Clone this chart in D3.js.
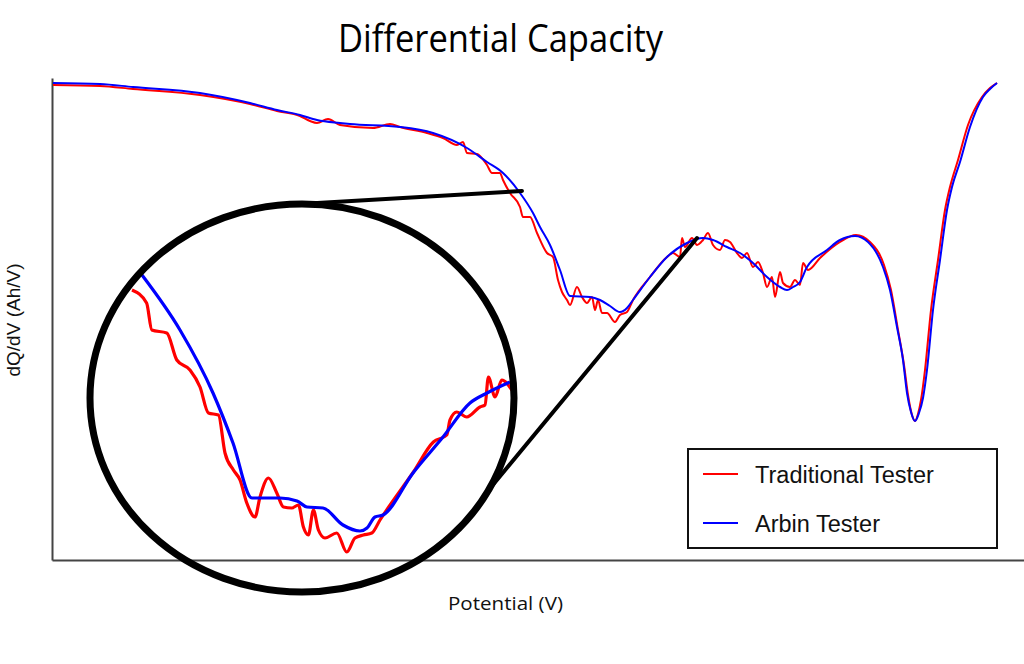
<!DOCTYPE html>
<html>
<head>
<meta charset="utf-8">
<script src="https://cdn.jsdelivr.net/npm/d3@7"></script>
<style>
  html, body { margin: 0; padding: 0; background: #fff; }
  svg { display: block; }
</style>
</head>
<body>
<svg id="chart" width="1024" height="664"></svg>
<script>
// ---------- DATA (potential, dQ/dV in arbitrary units) ----------
const seriesNames = ["Traditional Tester", "Arbin Tester"];
const seriesColors = ["#ff0000", "#0000ff"];

const traditionalV = [0.1,4.8,8.1,14.8,19.8,22.5,24.8,25.8,26.5,27.6,28.8,32.1,33.8,34.8,37.5,39.1,40.5,41.1,41.5,42.5,43.5,44.0,44.8,45.1,45.8,46.8,47.1,47.8,48.5,49.5,50.1,50.6,51.0,51.5,51.8,52.5,53.0,53.5,54.0,54.3,54.6,55.0,55.5,56.3,56.8,57.5,58.1,59.8,61.5,62.1,62.8,63.0,63.3,64.0,64.5,65.1,65.6,66.1,66.8,67.3,67.8,68.5,69.0,69.5,70.1,70.6,71.1,71.5,72.0,72.3,72.8,73.1,73.8,74.3,74.8,75.1,75.6,76.8,78.8,80.4,81.8,83.2,83.9,84.6,85.2,85.6,86.0,86.3,86.6,86.9,87.3,87.9,88.6,89.3,89.8,90.6,91.6,93.0,93.8,94.5];
const traditionalDQ = [95.0,94.8,94.2,93.0,91.2,89.8,88.8,87.8,87.4,88.2,87.0,86.4,87.2,86.6,85.4,84.4,83.0,83.6,81.4,81.2,79.0,77.4,77.4,76.0,73.4,70.6,68.6,68.6,65.4,61.4,60.6,56.0,53.6,52.0,51.0,54.6,52.6,51.4,52.6,50.0,52.0,49.4,49.4,47.6,49.0,49.6,52.0,56.6,60.6,61.4,60.6,64.4,62.6,64.4,63.0,64.0,65.4,63.0,62.0,64.0,63.6,61.4,60.4,61.4,58.6,59.6,57.4,54.6,56.6,52.6,57.6,55.4,54.6,56.0,55.0,59.4,58.0,60.4,63.6,65.0,63.6,59.0,54.0,46.0,39.0,33.0,29.0,27.8,29.2,32.0,38.0,50.0,60.0,70.0,74.6,80.0,87.0,92.6,94.4,95.4];

const arbinV = [0.1,4.8,8.1,14.8,19.8,22.5,24.8,26.5,28.8,29.8,34.8,38.1,41.5,43.5,45.1,46.8,48.1,48.8,49.8,50.8,51.8,53.8,54.8,55.8,56.8,57.5,58.1,59.8,61.5,63.5,65.1,66.1,67.5,68.8,70.1,71.5,72.8,73.5,74.1,74.8,75.5,77.5,78.8,80.3,81.6,83.1,83.8,84.5,85.1,85.5,85.9,86.3,86.7,87.1,87.5,88.1,88.8,89.5,90.0,90.8,91.8,93.1,93.8,94.5];
const arbinDQ = [95.4,95.2,94.6,93.4,91.4,90.0,89.0,88.0,87.4,87.2,86.6,85.4,82.4,79.6,77.4,73.4,69.4,66.6,63.0,58.0,52.8,52.6,52.0,50.8,49.6,50.4,52.0,56.6,60.6,63.4,64.4,64.0,62.6,61.4,59.4,56.6,54.6,54.0,54.6,55.6,58.6,62.0,64.0,64.8,63.6,58.6,54.0,46.6,40.0,33.4,29.6,27.8,29.4,32.4,38.0,50.0,60.0,70.0,74.6,79.6,86.6,92.6,94.2,95.4];

// Magnified (inset) view of the region around the first valley
const insetTraditionalV = [45.8,46.53,46.79,47.54,48.04,48.7,49.2,49.62,50.12,50.45,50.87,51.2,51.54,51.95,52.2,52.62,53.04,53.37,53.79,54.12,54.37,54.62,54.87,55.12,55.45,56.04,56.54,56.95,57.37,57.79,58.2,59.87,60.87,61.54,61.7,62.04,62.54,63.2,63.45,63.62,63.95,64.29,64.79];
const insetTraditionalDQ = [73.6,72.3,69.6,69.3,66.6,65.6,63.9,61.3,61.1,57.3,55.6,54.6,52.3,50.9,52.9,54.8,53.3,51.9,51.8,52.1,49.9,49.1,51.6,49.6,48.8,49.3,47.4,48.8,49.1,49.3,50.6,55.4,58.4,59.1,60.6,61.4,60.9,61.9,62.1,64.9,62.9,64.6,63.6];
const insetArbinV = [46.3,48.2,49.85,50.85,51.8,53.2,54.05,54.55,55.35,56.35,57.2,57.55,57.95,58.35,59.85,61.35,62.7,63.55,64.7];
const insetArbinDQ = [75.1,69.6,63.3,58.3,52.8,52.8,52.5,51.9,51.8,50.1,49.5,49.8,50.9,51.1,55.3,58.9,62.3,63.3,64.4];

// Zoom window on the main curve (data coords of the connector ends)
const zoomFrom = [47.0, 73.8];
const zoomTo = [64.5, 64.4];

// Text
const titleText = "Differential Capacity";
const xLabel = "Potential (V)";
const yLabel = "dQ/dV (Ah/V)";

// ---------- LAYOUT ----------
const svg = d3.select("#chart");
const x = d3.scaleLinear().domain([0, 97.2]).range([52, 1024]);
const y = d3.scaleLinear().domain([0, 96.4]).range([560, 78]);

// Inset scales (magnified)
const ix = d3.scaleLinear().domain([51.8, 61.8]).range([252, 452]);
const iy = d3.scaleLinear().domain([42.8, 62.8]).range([598, 398]);
const ell = { cx: 302, cy: 398, rx: 212, ry: 194 };

function zipXY(a, b) { return a.map((v, i) => [v, b[i]]); }

// Axes (domain lines only, no ticks)
svg.append("g").attr("transform", "translate(0,560)")
  .call(d3.axisBottom(x).ticks(0).tickSizeOuter(0));
svg.append("g").attr("transform", "translate(52,0)")
  .call(d3.axisLeft(y).ticks(0).tickSizeOuter(0));
svg.selectAll(".domain").attr("stroke", "#444").attr("stroke-width", 2);

// Main curves
const line = d3.line().x(d => x(d[0])).y(d => y(d[1])).curve(d3.curveMonotoneX);
const mainData = [zipXY(traditionalV, traditionalDQ), zipXY(arbinV, arbinDQ)];
mainData.forEach((d, i) => {
  svg.append("path").datum(d).attr("d", line)
    .attr("fill", "none").attr("stroke", seriesColors[i])
    .attr("stroke-width", 2).attr("stroke-linejoin", "round");
});

// Inset curves clipped to the ellipse
const defs = svg.append("defs");
defs.append("clipPath").attr("id", "insetClip")
  .append("ellipse").attr("cx", ell.cx).attr("cy", ell.cy).attr("rx", ell.rx).attr("ry", ell.ry);
const iline = d3.line().x(d => ix(d[0])).y(d => iy(d[1])).curve(d3.curveMonotoneX);
const insetData = [zipXY(insetTraditionalV, insetTraditionalDQ), zipXY(insetArbinV, insetArbinDQ)];
const ig = svg.append("g").attr("clip-path", "url(#insetClip)");
insetData.forEach((d, i) => {
  ig.append("path").datum(d).attr("d", iline)
    .attr("fill", "none").attr("stroke", seriesColors[i])
    .attr("stroke-width", 3.2).attr("stroke-linejoin", "round");
});

// Ellipse frame
svg.append("ellipse").attr("cx", ell.cx).attr("cy", ell.cy).attr("rx", ell.rx).attr("ry", ell.ry)
  .attr("fill", "none").attr("stroke", "#000").attr("stroke-width", 7);

// Connector lines
function ellPoint(deg) {
  const t = deg * Math.PI / 180;
  return [ell.cx + ell.rx * Math.cos(t), ell.cy - ell.ry * Math.sin(t)];
}
const p1 = ellPoint(90.5), p2 = ellPoint(-28.3);
svg.append("line").attr("x1", p1[0]).attr("y1", p1[1])
  .attr("x2", x(zoomFrom[0])).attr("y2", y(zoomFrom[1]))
  .attr("stroke", "#000").attr("stroke-width", 4).attr("stroke-linecap", "round");
svg.append("line").attr("x1", p2[0]).attr("y1", p2[1])
  .attr("x2", x(zoomTo[0])).attr("y2", y(zoomTo[1]))
  .attr("stroke", "#000").attr("stroke-width", 4).attr("stroke-linecap", "round");

// Title & axis labels
svg.append("text").attr("x", 500.5).attr("y", 52)
  .attr("text-anchor", "middle").attr("font-family", "Open Sans, sans-serif")
  .attr("font-size", 38).attr("fill", "#000")
  .attr("textLength", 325).attr("lengthAdjust", "spacingAndGlyphs")
  .text(titleText);

svg.append("text").attr("x", 505.5).attr("y", 610)
  .attr("text-anchor", "middle").attr("font-family", "Open Sans, sans-serif")
  .attr("font-size", 19).attr("fill", "#111")
  .attr("textLength", 115).attr("lengthAdjust", "spacingAndGlyphs")
  .text(xLabel);

svg.append("text").attr("transform", "translate(20,320) rotate(-90)")
  .attr("text-anchor", "middle").attr("font-family", "Liberation Sans, Arial, sans-serif")
  .attr("font-size", 19).attr("fill", "#111").text(yLabel);

// Legend
const lg = svg.append("g");
lg.append("rect").attr("x", 688).attr("y", 449).attr("width", 309).attr("height", 99)
  .attr("fill", "#fff").attr("stroke", "#111").attr("stroke-width", 2);
seriesNames.forEach((name, i) => {
  const yy = 474 + i * 49;
  lg.append("line").attr("x1", 703).attr("x2", 738).attr("y1", yy).attr("y2", yy)
    .attr("stroke", seriesColors[i]).attr("stroke-width", 2);
  lg.append("text").attr("x", 755).attr("y", yy + 8.5)
    .attr("font-family", "Liberation Sans, Arial, sans-serif")
    .attr("font-size", 23.5).attr("fill", "#111").text(name);
});
</script>
</body>
</html>
